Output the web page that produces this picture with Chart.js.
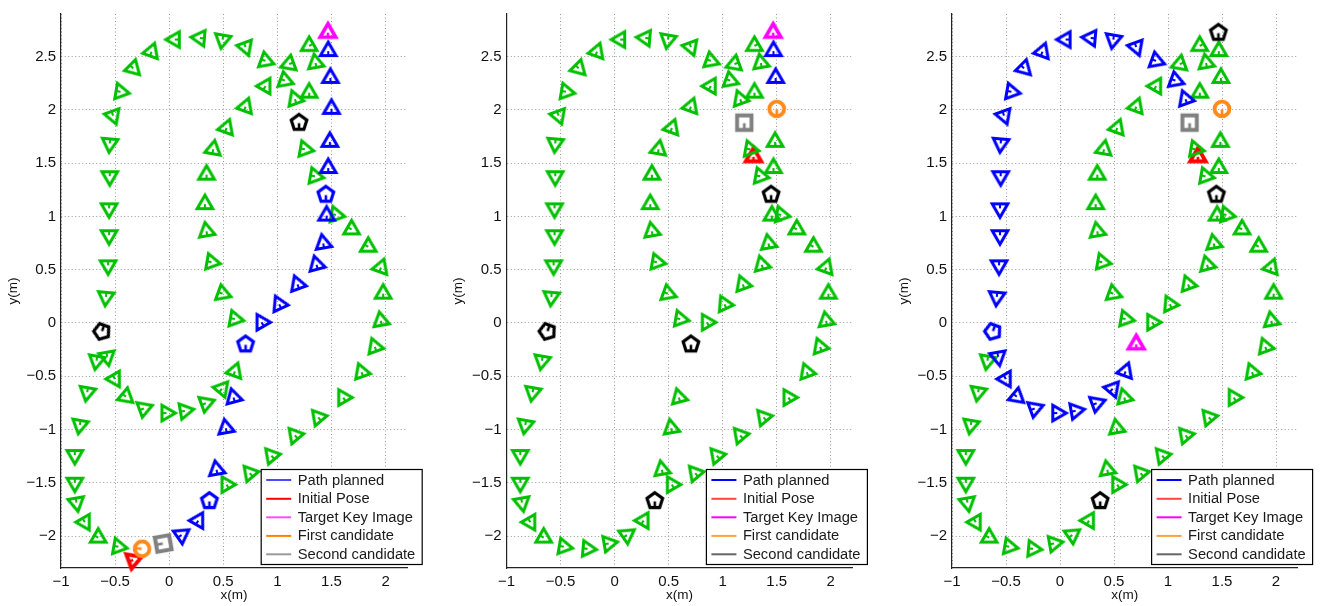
<!DOCTYPE html>
<html><head><meta charset="utf-8">
<script src="https://cdn.jsdelivr.net/npm/chart.js@4.4.0/dist/chart.umd.min.js"></script>
<style>
html,body{margin:0;padding:0;background:#fff;width:1324px;height:606px;overflow:hidden}
canvas{position:absolute;top:0}
</style></head><body>
<canvas id="c1" width="440" height="606" style="left:0px"></canvas>
<canvas id="c2" width="440" height="606" style="left:440px"></canvas>
<canvas id="c3" width="444" height="606" style="left:880px"></canvas>
<script>
// ---- keyframe poses (shared by the three panels) ----
const keyX = [1.294,1.353,1.109,0.89,0.706,0.493,0.284,0.052,-0.163,-0.333,-0.45,-0.518,-0.549,-0.549,-0.555,-0.555,-0.564,-0.585,-0.622,-0.672,
  -0.758,-0.826,-0.872,-0.872,-0.857,-0.78,-0.656,-0.47,-0.25,-0.055,0.114,0.268,0.372,0.438,0.524,0.595,0.706,0.854,1.017,1.186,
  1.362,1.424,1.455,1.448,1.47,1.485,1.50,1.49,1.47,1.467,-0.573,-0.502,-0.40,-0.234,-0.025,0.145,0.339,0.487,0.607,0.607,
  0.493,0.391,0.345,0.33,0.345,0.407,0.53,0.706,0.89,1.069,1.162,1.294,1.254,1.347,1.541,1.686,1.84,1.957,1.978,1.957,
  1.901,1.778,1.609,1.378,1.162,0.946,0.746,0.53,1.20];
const keyY = [2.60,2.44,2.43,2.46,2.59,2.66,2.675,2.66,2.546,2.39,2.17,1.946,1.685,1.377,1.075,0.823,0.54,0.245,-0.08,-0.354,
  -0.65,-0.957,-1.24,-1.50,-1.686,-1.87,-2.015,-2.10,-2.12,-2.07,-1.99,-1.855,-1.67,-1.378,-0.988,-0.70,-0.20,0.006,0.175,0.362,
  0.546,0.746,1.008,1.205,1.454,1.70,2.01,2.30,2.552,2.725,-0.317,-0.526,-0.692,-0.803,-0.846,-0.825,-0.754,-0.618,-0.455,0.037,
  0.275,0.571,0.86,1.115,1.392,1.63,1.83,2.03,2.223,2.275,2.10,2.162,1.63,1.377,1.014,0.878,0.715,0.52,0.275,0.02,
  -0.225,-0.462,-0.70,-0.886,-1.055,-1.246,-1.41,-1.517,1.88];
const keyRot = [240,350,250,110,160,190,275,270,20,135,100,160,185,180,180,180,180,185,200,190,
  190,190,180,180,170,150,120,100,95,80,55,30,0,350,350,345,0,330,335,340,
  345,350,0,0,0,0,0,0,0,0,170,150,130,70,90,80,70,40,20,100,
  110,100,350,0,0,10,20,20,30,110,340,0,100,100,100,120,120,20,0,350,
  340,340,330,320,320,320,320,330,0];

// ---- per panel roles (indices into the keyframe arrays) ----
const p1Path = [30,31,33,34,35,37,38,39,40,41,42,44,45,46,47,48];
const p1PathPent = [32,36,43];
const p1KeyPent = [18,88];
const p1Target = [49], p1First = [28], p1Second = [29], p1Hidden = [];

const p2Path = [47,48];
const p2PathPent = [];
const p2KeyPent = [18,32,36,43];
const p2Target = [49], p2First = [46], p2Second = [88];
const p2Hidden = [50,51,52,53,54,55,56,57,58];

const p3Path = [3,4,5,6,7,8,9,10,11,12,13,14,15,16,17,50,51,52,53,54,55,56,57,58,69,70];
const p3PathPent = [18];
const p3KeyPent = [32,43,49];
const p3Target = [36], p3First = [46], p3Second = [88], p3Hidden = [];

const initX = [-0.333, 1.285, 1.277];
const initY = [-2.225, 1.56, 1.56];
const initRot = [70, 0, 0];

const xTicks = [-1,-0.5,0,0.5,1,1.5,2];
const yTicks = [-2,-1.5,-1,-0.5,0,0.5,1,1.5,2,2.5];
const legendLabels = ['Path planned','Initial Pose','Target Key Image','First candidate','Second candidate'];

// ---- marker images ----
function marker(shape, color, lw){
  const s = 34, c = document.createElement('canvas'); c.width = c.height = s;
  const g = c.getContext('2d'); g.translate(s/2, s/2);
  g.strokeStyle = color; g.lineWidth = lw; g.lineJoin = 'miter'; g.miterLimit = 3;
  g.beginPath();
  if (shape === 'tri'){
    const R = 9;
    g.moveTo(0,-R); g.lineTo(R*0.866,R/2); g.lineTo(-R*0.866,R/2); g.closePath();
    g.stroke(); g.beginPath(); g.lineWidth = lw*0.7;
    g.moveTo(0,R/2); g.lineTo(0,R/2-4.5);
  } else if (shape === 'pent'){
    const R = 8.2;
    for (let k=0;k<5;k++){ const a = -Math.PI/2 + k*2*Math.PI/5; k?g.lineTo(R*Math.cos(a),R*Math.sin(a)):g.moveTo(R*Math.cos(a),R*Math.sin(a)); }
    g.closePath(); g.stroke(); g.beginPath(); g.lineWidth = lw*0.8;
    g.moveTo(0,R*0.81); g.lineTo(0,0.5);
  } else if (shape === 'circ'){
    g.arc(0,0,7.4,0,Math.PI*2); g.stroke(); g.beginPath(); g.lineWidth = lw*0.7;
    g.moveTo(0,7.4); g.lineTo(0,0.5);
  } else if (shape === 'sq'){
    const h = 7.2;
    g.rect(-h,-h,2*h,2*h); g.stroke(); g.beginPath(); g.lineWidth = lw*0.7;
    g.moveTo(0,h); g.lineTo(0,0.5);
  }
  g.stroke();
  return c;
}
const GREEN = '#00c000', BLUE = '#0000ff';
const imgs = {
  green: marker('tri', GREEN, 3.0),
  blue: marker('tri', BLUE, 3.0),
  bluePent: marker('pent', BLUE, 3.2),
  blackPent: marker('pent', '#000000', 3.2),
  target: marker('tri', '#ff00ff', 3.6),
  red: marker('tri', '#ff0000', 3.8),
  first: marker('circ', '#ff8a1c', 3.9),
  second: marker('sq', '#808080', 3.9)
};

function pts(idx){ return idx.map(i => ({x: keyX[i], y: keyY[i]})); }
function rots(idx){ return idx.map(i => keyRot[i]); }

function ds(label, idx, img, order){
  return {label, data: pts(idx), pointStyle: img, rotation: rots(idx), pointRadius: 8,
    showLine: false, order, clip: 12, backgroundColor: 'transparent', borderColor: 'transparent'};
}

const legendPlugin = {
  id: 'poseLegend',
  afterDraw(chart){
    const o = chart.options.plugins.poseLegend; if (!o) return;
    const ctx = chart.ctx, a = chart.chartArea;
    const w = 161, h = 95, L = a.right + 15 - w, T = 469.5;
    ctx.save();
    ctx.fillStyle = '#fff'; ctx.fillRect(L, T, w, h);
    ctx.strokeStyle = '#000'; ctx.lineWidth = 1.2; ctx.strokeRect(L, T, w, h);
    const rows = [10.5, 29.3, 47.8, 66.4, 84.8];
    ctx.font = '14.7px "Liberation Sans", Arial, sans-serif';
    ctx.textBaseline = 'middle'; ctx.textAlign = 'left';
    legendLabels.forEach((t, i) => {
      const y = T + rows[i];
      ctx.strokeStyle = o.colors[i]; ctx.lineWidth = 2;
      ctx.beginPath(); ctx.moveTo(L+5, y); ctx.lineTo(L+30, y); ctx.stroke();
      ctx.fillStyle = '#1a1a1a'; ctx.fillText(t, L+36.5, y+0.5);
    });
    ctx.restore();
  }
};

function fmt(v){ return (v < 0 ? '\u2212' : '') + String(Math.abs(v)); }

function makePanel(id, cfg){
  const used = new Set([].concat(cfg.path, cfg.pathPent, cfg.keyPent, cfg.target, cfg.first, cfg.second, cfg.hidden));
  const green = keyX.map((_, i) => i).filter(i => !used.has(i));
  const datasets = [
    ds('target', cfg.target, imgs.target, 0),
    ds('first', cfg.first, imgs.first, 0),
    ds('second', cfg.second, imgs.second, 0),
    ds('keyPent', cfg.keyPent, imgs.blackPent, 0),
    ds('pathPent', cfg.pathPent, imgs.bluePent, 1),
    ds('path', cfg.path, imgs.blue, 1),
    ds('green', green, imgs.green, 2),
    {label:'initial', data:[{x: initX[cfg.k], y: initY[cfg.k]}], pointStyle: imgs.red, rotation: [initRot[cfg.k]],
      pointRadius: 8, showLine:false, order:3, clip:12, backgroundColor:'transparent', borderColor:'transparent'}
  ];
  const font = {family: '"Liberation Sans", Arial, Helvetica, sans-serif', size: 15};
  new Chart(document.getElementById(id), {
    type: 'scatter',
    data: {datasets},
    plugins: [legendPlugin],
    options: {
      responsive: false, animation: false, events: [],
      layout: {padding: {left: 0, right: cfg.padR, top: 5, bottom: 0}},
      plugins: {legend: {display: false}, tooltip: {enabled: false}, poseLegend: {colors: cfg.legendColors}},
      scales: {
        x: {type: 'linear', min: -1, max: 2.2,
          afterBuildTicks: s => { s.ticks = xTicks.map(v => ({value: v})); },
          afterFit: s => { s.height = 38; },
          ticks: {callback: fmt, font, color: '#111', padding: 5, maxRotation: 0, autoSkip: false},
          grid: {color: '#9a9a9a', lineWidth: 1, drawTicks: false},
          border: {display: true, color: '#222', width: 1.2, dash: [1, 2.5]},
          title: {display: true, text: 'x(m)', font: {family: font.family, size: 13.5}, color: '#111', padding: {top: 0, bottom: 3}}
        },
        y: {type: 'linear', min: -2.3, max: 2.9,
          afterBuildTicks: s => { s.ticks = yTicks.map(v => ({value: v})); },
          afterFit: s => { s.width = cfg.axL; },
          ticks: {callback: fmt, font, color: '#111', padding: 5, autoSkip: false},
          grid: {color: '#9a9a9a', lineWidth: 1, drawTicks: false},
          border: {display: true, color: '#222', width: 1.2, dash: [1, 2.5]},
          title: {display: true, text: 'y(m)', font: {family: font.family, size: 13.5}, color: '#111', padding: {top: cfg.axL - 48 - 8, bottom: 0}}
        }
      }
    }
  });
}

makePanel('c1', {k:0, path:p1Path, pathPent:p1PathPent, keyPent:p1KeyPent, target:p1Target, first:p1First, second:p1Second, hidden:p1Hidden,
  axL: 61, padR: 32.8, legendColors: ['#4a4aff','#ff0000','#ff4dff','#ff8000','#9a9a9a']});
makePanel('c2', {k:1, path:p2Path, pathPent:p2PathPent, keyPent:p2KeyPent, target:p2Target, first:p2First, second:p2Second, hidden:p2Hidden,
  axL: 66.5, padR: 27.6, legendColors: ['#0000ff','#ff4444','#ff00ff','#ffa040','#666666']});
makePanel('c3', {k:2, path:p3Path, pathPent:p3PathPent, keyPent:p3KeyPent, target:p3Target, first:p3First, second:p3Second, hidden:p3Hidden,
  axL: 72, padR: 26.4, legendColors: ['#0000ff','#ff4444','#ff00ff','#ffa040','#666666']});
</script>
</body></html>
